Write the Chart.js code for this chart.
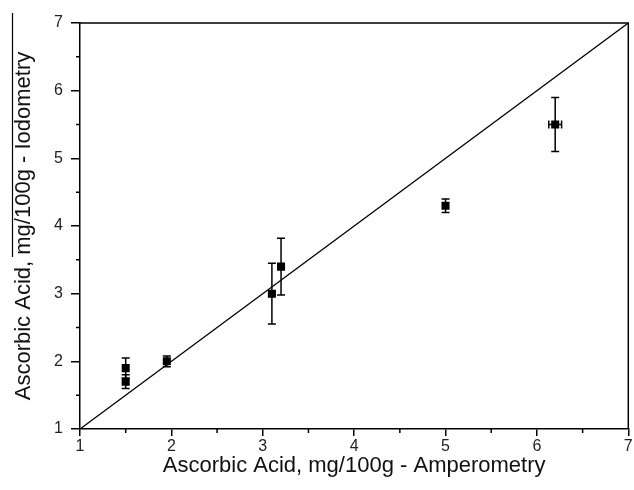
<!DOCTYPE html>
<html>
<head>
<meta charset="utf-8">
<script src="https://cdn.jsdelivr.net/npm/chart.js@4"></script>
<style>
  html, body { margin: 0; padding: 0; background: #fff; }
  #wrap { width: 634px; height: 490px; }
</style>
</head>
<body>
<div id="wrap"><canvas id="c" width="634" height="490"></canvas></div>
<script>
// measured points (amperometry vs iodometry)
const xVals = [1.5, 1.5, 1.95, 3.1, 3.2, 5.0, 6.2];
const yVals = [1.9, 1.7, 2.0, 3.0, 3.4, 4.3, 5.5];
const yErr = [0.15, 0.1, 0.08, 0.45, 0.42, 0.1, 0.4];
const xErr = [0, 0, 0, 0, 0, 0, 0.07];

// y = x reference line
const lineX = [1, 7];
const lineY = [1, 7];

const xTicks = [1, 2, 3, 4, 5, 6, 7];
const yTicks = [1, 2, 3, 4, 5, 6, 7];

const FONT = "'Liberation Sans', Arial, sans-serif";

const errorBars = {
    id: "errorBars",
    afterDatasetsDraw(chart) {
        const ctx = chart.ctx;
        const xs = chart.scales.x, ys = chart.scales.y;
        ctx.save();
        ctx.strokeStyle = "#000";
        ctx.lineWidth = 1.5;
        const cap = 4;
        xVals.forEach((xv, i) => {
            const px = xs.getPixelForValue(xv);
            const py = ys.getPixelForValue(yVals[i]);
            if (yErr[i] > 0) {
                const top = ys.getPixelForValue(yVals[i] + yErr[i]);
                const bot = ys.getPixelForValue(yVals[i] - yErr[i]);
                ctx.beginPath();
                ctx.moveTo(px, top); ctx.lineTo(px, bot);
                ctx.moveTo(px - cap, top); ctx.lineTo(px + cap, top);
                ctx.moveTo(px - cap, bot); ctx.lineTo(px + cap, bot);
                ctx.stroke();
            }
            if (xErr[i] > 0) {
                const l = xs.getPixelForValue(xVals[i] - xErr[i]);
                const r = xs.getPixelForValue(xVals[i] + xErr[i]);
                ctx.beginPath();
                ctx.moveTo(l, py); ctx.lineTo(r, py);
                ctx.moveTo(l, py - cap); ctx.lineTo(l, py + cap);
                ctx.moveTo(r, py - cap); ctx.lineTo(r, py + cap);
                ctx.stroke();
            }
        });
        ctx.restore();
    }
};

// frame on top/right, minor ticks and the bar over the y title
const frame = {
    id: "frame",
    afterDraw(chart) {
        const ctx = chart.ctx;
        const a = chart.chartArea;
        const xs = chart.scales.x, ys = chart.scales.y;
        ctx.save();
        ctx.strokeStyle = "#000";
        ctx.lineWidth = 1.5;
        ctx.beginPath();
        ctx.moveTo(a.left, a.top); ctx.lineTo(a.right, a.top); ctx.lineTo(a.right, a.bottom);
        ctx.stroke();
        ctx.beginPath();
        for (let v = 1.5; v < 7; v += 1) {
            const px = xs.getPixelForValue(v);
            ctx.moveTo(px, a.bottom); ctx.lineTo(px, a.bottom + 4);
            const py = ys.getPixelForValue(v);
            ctx.moveTo(a.left, py); ctx.lineTo(a.left - 4, py);
        }
        ctx.stroke();
        ctx.lineWidth = 1.2;
        ctx.beginPath();
        ctx.moveTo(12.5, 13); ctx.lineTo(12.5, 257);
        ctx.stroke();
        ctx.restore();
    }
};

new Chart(document.getElementById("c"), {
    type: "scatter",
    data: {
        datasets: [{
            data: lineX.map((x, i) => ({ x: x, y: lineY[i] })),
            showLine: true,
            borderColor: "#000",
            borderWidth: 1.3,
            pointRadius: 0
        }, {
            data: xVals.map((x, i) => ({ x: x, y: yVals[i] })),
            pointStyle: "rect",
            pointRadius: 5.7,
            backgroundColor: "#000",
            borderColor: "#000",
            borderWidth: 0
        }]
    },
    options: {
        responsive: false,
        animation: false,
        layout: { padding: { top: 23, right: 3, left: 0, bottom: 0 } },
        plugins: {
            legend: { display: false },
            tooltip: { enabled: false }
        },
        scales: {
            x: {
                type: "linear",
                min: 1, max: 7,
                afterBuildTicks: s => { s.ticks = xTicks.map(v => ({ value: v })); },
                afterFit: s => { s.height = 61; s.paddingLeft = 0; s.paddingRight = 0; },
                grid: { drawOnChartArea: false, drawTicks: true, tickLength: 7, color: "#000", lineWidth: 1.5 },
                border: { display: true, color: "#000", width: 1.5 },
                ticks: { color: "#222", padding: 1, font: { family: FONT, size: 16 } },
                title: {
                    display: true,
                    text: "Ascorbic Acid, mg/100g - Amperometry",
                    color: "#111",
                    font: { family: FONT, size: 22, lineHeight: 1 },
                    padding: { top: 0, bottom: 13 }
                }
            },
            y: {
                type: "linear",
                min: 1, max: 7,
                afterBuildTicks: s => { s.ticks = yTicks.map(v => ({ value: v })); },
                afterFit: s => { s.width = 80; s.paddingTop = 0; s.paddingBottom = 0; },
                grid: { drawOnChartArea: false, drawTicks: true, tickLength: 9, color: "#000", lineWidth: 1.5 },
                border: { display: true, color: "#000", width: 1.5 },
                ticks: { color: "#222", padding: 8, font: { family: FONT, size: 16 } },
                title: {
                    display: true,
                    text: "Ascorbic Acid, mg/100g - Iodometry",
                    color: "#111",
                    font: { family: FONT, size: 22, lineHeight: 1 },
                    padding: { top: 13, bottom: 0 }
                }
            }
        }
    },
    plugins: [errorBars, frame]
});
</script>
</body>
</html>
